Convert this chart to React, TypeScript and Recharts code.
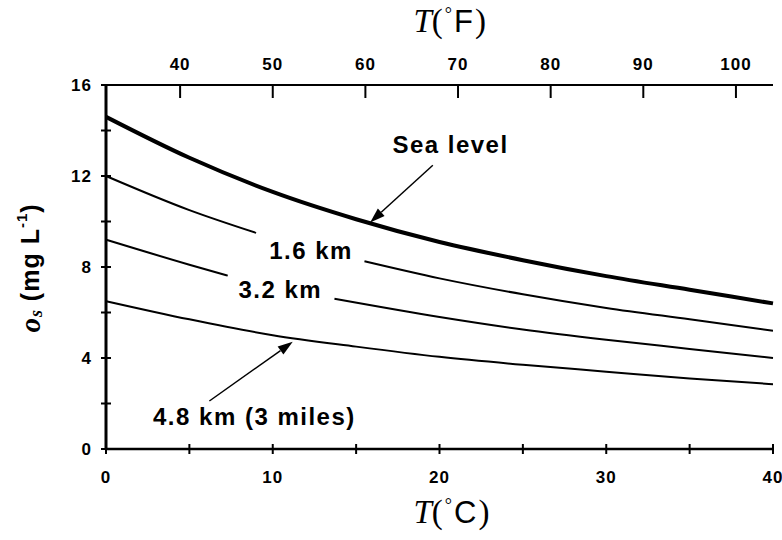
import React from "react";
import { LineChart, Line, XAxis, YAxis, ReferenceDot, ReferenceLine, Label } from "recharts";

// saturated dissolved oxygen (mg/L) vs water temperature (deg C)
const seaLevel = [
  { t: 0, o: 14.6 }, { t: 5, o: 12.8 }, { t: 10, o: 11.3 }, { t: 15, o: 10.1 },
  { t: 20, o: 9.1 }, { t: 25, o: 8.3 }, { t: 30, o: 7.6 }, { t: 35, o: 7.0 }, { t: 40, o: 6.4 },
];
// gaps (null) are where the curve label sits in the original
const km16 = [
  { t: 0, o: 12.0 }, { t: 5, o: 10.5 }, { t: 9, o: 9.5 }, { t: 12, o: null },
  { t: 15.5, o: 8.25 }, { t: 20, o: 7.5 }, { t: 25, o: 6.8 }, { t: 30, o: 6.2 }, { t: 35, o: 5.7 }, { t: 40, o: 5.2 },
];
const km32 = [
  { t: 0, o: 9.2 }, { t: 5, o: 8.1 }, { t: 7.3, o: 7.62 }, { t: 10, o: null },
  { t: 13.7, o: 6.6 }, { t: 20, o: 5.8 }, { t: 25, o: 5.25 }, { t: 30, o: 4.8 }, { t: 35, o: 4.4 }, { t: 40, o: 4.0 },
];
const km48 = [
  { t: 0, o: 6.5 }, { t: 5, o: 5.7 }, { t: 10, o: 5.0 }, { t: 15, o: 4.5 },
  { t: 20, o: 4.05 }, { t: 25, o: 3.7 }, { t: 30, o: 3.4 }, { t: 35, o: 3.1 }, { t: 40, o: 2.85 },
];

const cTicks = [0, 5, 10, 15, 20, 25, 30, 35, 40];
const fTicks = [40, 50, 60, 70, 80, 90, 100];
const oTicks = [0, 2, 4, 6, 8, 10, 12, 14, 16];
// Fahrenheit span matching 0..40 C, only used to register the top axis
const fSpan = [{ f: 32 }, { f: 104 }];

const curveLabels = [
  { text: "Sea level", t: 20.66, o: 13.4 },
  { text: "1.6 km", t: 12.3, o: 8.73 },
  { text: "3.2 km", t: 10.45, o: 7.0 },
  { text: "4.8 km (3 miles)", t: 8.9, o: 1.45 },
];
const arrows = [
  { from: { t: 19.6, o: 12.47 }, to: { t: 15.84, o: 9.96 } },
  { from: { t: 6.2, o: 2.11 }, to: { t: 11.2, o: 4.71 } },
];

const SANS = "'Liberation Sans', Arial, Helvetica, sans-serif";
const SERIF = "'Liberation Serif', 'Times New Roman', serif";

const BottomTick = (props: any) => {
  const { x, y, payload } = props;
  const v = payload.value;
  return (
    <g>
      <line x1={x} y1={y - 5} x2={x} y2={y + 5} stroke="#000" strokeWidth={2} />
      {v % 10 === 0 && (
        <text x={x} y={y + 34} textAnchor="middle" fontFamily={SANS} fontWeight="bold" fontSize={17} letterSpacing={1}>
          {v}
        </text>
      )}
    </g>
  );
};

const TopTick = (props: any) => {
  const { x, y, payload } = props;
  return (
    <g>
      <line x1={x} y1={y} x2={x} y2={y + 13} stroke="#000" strokeWidth={2} />
      <text x={x} y={y - 15} textAnchor="middle" fontFamily={SANS} fontWeight="bold" fontSize={17} letterSpacing={1}>
        {payload.value}
      </text>
    </g>
  );
};

const LeftTick = (props: any) => {
  const { x, y, payload } = props;
  const v = payload.value;
  return (
    <g>
      <line x1={x - 5} y1={y} x2={x + 5} y2={y} stroke="#000" strokeWidth={2} />
      {v % 4 === 0 && (
        <text x={x - 14} y={y + 6} textAnchor="end" fontFamily={SANS} fontWeight="bold" fontSize={17} letterSpacing={1}>
          {v}
        </text>
      )}
    </g>
  );
};

const Arrow = (props: any) => {
  const { x1, y1, x2, y2 } = props;
  const a = Math.atan2(y2 - y1, x2 - x1);
  const len = 15;
  const w = 5;
  const bx = x2 - len * Math.cos(a);
  const by = y2 - len * Math.sin(a);
  const px = -Math.sin(a) * w;
  const py = Math.cos(a) * w;
  return (
    <g>
      <line x1={x1} y1={y1} x2={bx} y2={by} stroke="#000" strokeWidth={1.5} />
      <polygon points={`${x2},${y2} ${bx + px},${by + py} ${bx - px},${by - py}`} fill="#000" />
    </g>
  );
};

const TempTitle = (unit: string, dy: number) => (props: any) => {
  const { viewBox } = props;
  const left = viewBox.x + viewBox.width / 2 - 26;
  const y = viewBox.y + dy;
  return (
    <text x={left} y={y} fontSize={33} fontFamily={SERIF}>
      <tspan fontStyle="italic">T</tspan>
      <tspan>(</tspan>
      <tspan fontSize={18} dx={2} dy={-12}>°</tspan>
      <tspan fontFamily={SANS} fontSize={31} dx={2} dy={12}>{unit}</tspan>
      <tspan dx={2}>)</tspan>
    </text>
  );
};

const YTitle = () => (
  <text
    x={30}
    y={268}
    transform="rotate(-90, 30, 268)"
    textAnchor="middle"
    dominantBaseline="central"
    fontFamily={SANS}
    fontWeight="bold"
    fontSize={25}
    letterSpacing={1}
  >
    <tspan fontFamily={SERIF} fontStyle="italic" fontSize={29}>o</tspan>
    <tspan fontFamily={SERIF} fontStyle="italic" fontSize={18} dy={6}>s</tspan>
    <tspan dy={-6}> (mg L</tspan>
    <tspan fontSize={15} dy={-9}>-1</tspan>
    <tspan dy={9}>)</tspan>
  </text>
);

export default function App() {
  return (
    <div style={{ position: "absolute", left: 0, top: 0, width: 782, height: 540, background: "#fff" }}>
      <LineChart width={782} height={540} margin={{ top: 0, right: 9, bottom: 0, left: 0 }}>
        <XAxis
          xAxisId="c"
          dataKey="t"
          type="number"
          domain={[0, 40]}
          ticks={cTicks}
          interval={0}
          height={91}
          tickSize={0}
          tickMargin={0}
          tickLine={false}
          tick={<BottomTick />}
          axisLine={{ stroke: "#000", strokeWidth: 2.5 }}
        >
          <Label content={TempTitle("C", 74)} />
        </XAxis>
        <XAxis
          xAxisId="f"
          dataKey="f"
          orientation="top"
          type="number"
          domain={[32, 104]}
          allowDataOverflow
          ticks={fTicks}
          interval={0}
          height={85}
          tickSize={0}
          tickMargin={0}
          tickLine={false}
          tick={<TopTick />}
          axisLine={{ stroke: "#000", strokeWidth: 2 }}
        >
          <Label content={TempTitle("F", 32)} />
        </XAxis>
        <YAxis
          type="number"
          domain={[0, 16]}
          ticks={oTicks}
          interval={0}
          width={106}
          tickSize={0}
          tickMargin={0}
          tickLine={false}
          tick={<LeftTick />}
          axisLine={{ stroke: "#000", strokeWidth: 3 }}
        >
          <Label content={YTitle} />
        </YAxis>

        <Line xAxisId="f" data={fSpan} dataKey="none" stroke="none" dot={false} legendType="none" isAnimationActive={false} />
        <Line xAxisId="c" data={seaLevel} dataKey="o" type="monotone" stroke="#000" strokeWidth={4} dot={false} isAnimationActive={false} />
        <Line xAxisId="c" data={km16} dataKey="o" type="monotone" stroke="#000" strokeWidth={2} dot={false} isAnimationActive={false} />
        <Line xAxisId="c" data={km32} dataKey="o" type="monotone" stroke="#000" strokeWidth={2} dot={false} isAnimationActive={false} />
        <Line xAxisId="c" data={km48} dataKey="o" type="monotone" stroke="#000" strokeWidth={2} dot={false} isAnimationActive={false} />

        {curveLabels.map((l) => (
          <ReferenceDot
            key={l.text}
            xAxisId="c"
            x={l.t}
            y={l.o}
            r={0}
            shape={(p: any) => (
              <text x={p.cx} y={p.cy} textAnchor="middle" dominantBaseline="central" fontFamily={SANS} fontWeight="bold" fontSize={24} letterSpacing={1.5}>
                {l.text}
              </text>
            )}
          />
        ))}
        {arrows.map((a, i) => (
          <ReferenceLine
            key={i}
            xAxisId="c"
            segment={[{ x: a.from.t, y: a.from.o }, { x: a.to.t, y: a.to.o }]}
            shape={(p: any) => <Arrow {...p} />}
          />
        ))}
      </LineChart>
    </div>
  );
}
